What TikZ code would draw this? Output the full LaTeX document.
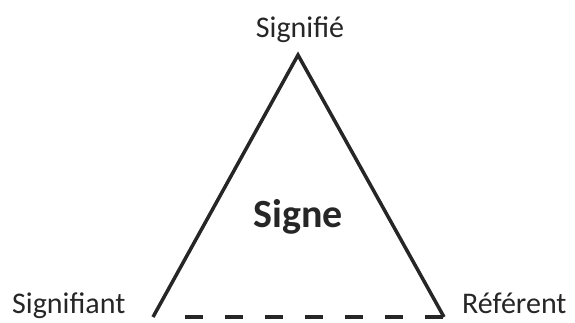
\documentclass[tikz,border=0pt]{standalone}
\usepackage{fontspec}
\setmainfont{Carlito}
\usetikzlibrary{positioning}

\begin{document}
\begin{tikzpicture}[x=1pt, y=-1pt,
  %--- shared styles ----------------------------------------------
  corner/.style={font=\fontsize{30}{32}\selectfont, inner sep=0pt, color=black!85},
  side/.style={line width=3.5pt, line join=miter, color=black!85},
  gap/.style={side, dash pattern=on 18pt off 22pt},
]
\useasboundingbox (0,0) rectangle (575,322);

%% --- corners of the triangle ------------------------------------
\coordinate (top) at (298, 55);
\coordinate (sl)  at (153, 317);
\coordinate (sr)  at (444, 317);

%% --- labels -----------------------------------------------------
\node[corner, anchor=base] (signifie) at (300, 37) {Signifié};
\node[corner, anchor=base west] (signifiant) at (12, 313) {Signifiant};
\node[corner, anchor=base west] (referent) at (462, 313) {Référent};
\node[font=\fontsize{40}{42}\selectfont\bfseries, inner sep=0pt,
  anchor=base, color=black!85] (signe) at (298, 227) {Signe};

%% --- sides ------------------------------------------------------
\draw[side] (sl) -- (top) -- (sr);
\draw[gap] ([xshift=32pt]sl) -- (sr);

\end{tikzpicture}
\end{document}
